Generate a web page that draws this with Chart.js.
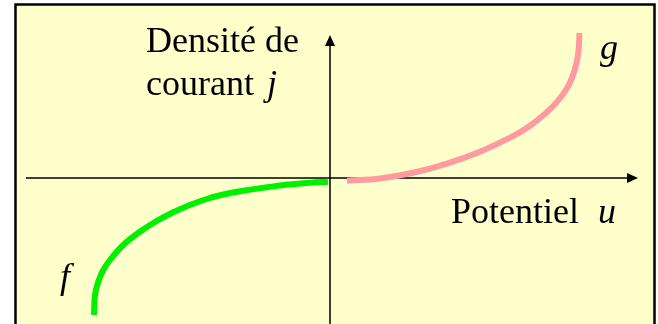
<!DOCTYPE html>
<html>
<head>
<meta charset="utf-8">
<script src="https://cdn.jsdelivr.net/npm/chart.js@4/dist/chart.umd.min.js"></script>
<style>
  html, body { margin: 0; padding: 0; background: #ffffff; }
  #wrap { width: 658px; height: 324px; }
</style>
</head>
<body>
<div id="wrap"><canvas id="chart" width="658" height="324"></canvas></div>
<script>
// curve f (potential u, current density j), arbitrary units, origin at axes crossing
var fU = [-2.36, -2.35, -2.317, -2.267, -2.20, -2.067, -1.90, -1.733, -1.567, -1.40, -1.233, -1.067, -0.85, -0.633, -0.42, -0.20, -0.02];
var fJ = [-1.37, -1.17, -1.037, -0.92, -0.82, -0.67, -0.537, -0.43, -0.343, -0.27, -0.21, -0.165, -0.125, -0.093, -0.066, -0.047, -0.037];
// curve g
var gU = [0.17, 0.50, 0.83, 1.17, 1.50, 1.83, 2.00, 2.16, 2.27, 2.38, 2.45, 2.483, 2.495];
var gJ = [-0.027, -0.004, 0.052, 0.144, 0.263, 0.418, 0.523, 0.651, 0.761, 0.915, 1.09, 1.252, 1.45];
// axis extents
var uRange = [-3.30, 3.28];
var jRange = [-1.46, 1.78];
var uAxis = [-3.04, 3.08];
var jAxisTop = 1.43;

function toPoints(xs, ys) {
  var pts = [];
  for (var i = 0; i < xs.length; i++) pts.push({ x: xs[i], y: ys[i] });
  return pts;
}

var labels = [
  { text: "Densité de", u: -1.84, j: 1.26, italic: false },
  { text: "courant", u: -1.84, j: 0.83, italic: false },
  { text: "j", u: -0.63, j: 0.83, italic: true },
  { text: "Potentiel", u: 1.21, j: -0.45, italic: false },
  { text: "u", u: 2.68, j: -0.45, italic: true },
  { text: "g", u: 2.70, j: 1.19, italic: true },
  { text: "f", u: -2.70, j: -1.10, italic: true }
];

var framePlugin = {
  id: "frame",
  beforeDraw: function (chart) {
    var ctx = chart.ctx;
    ctx.save();
    ctx.fillStyle = "#ffffff";
    ctx.fillRect(0, 0, chart.width, chart.height);
    ctx.fillStyle = "#ffffcc";
    ctx.fillRect(15, 4, 640, 330);
    ctx.strokeStyle = "#000000";
    ctx.lineWidth = 2.5;
    ctx.strokeRect(15.5, 4.5, 639, 340);

    var xs = chart.scales.x, ys = chart.scales.y;
    var x0 = xs.getPixelForValue(0), y0 = ys.getPixelForValue(0);
    var xl = xs.getPixelForValue(uAxis[0]), xr = xs.getPixelForValue(uAxis[1]);
    var yt = ys.getPixelForValue(jAxisTop), yb = ys.getPixelForValue(jRange[0]);
    ctx.lineWidth = 1.5;
    ctx.beginPath();
    ctx.moveTo(xl, y0); ctx.lineTo(xr - 8, y0);
    ctx.moveTo(x0, yb); ctx.lineTo(x0, yt + 8);
    ctx.stroke();
    ctx.fillStyle = "#000000";
    ctx.beginPath();
    ctx.moveTo(xr, y0); ctx.lineTo(xr - 11, y0 - 5); ctx.lineTo(xr - 11, y0 + 5); ctx.closePath();
    ctx.fill();
    ctx.beginPath();
    ctx.moveTo(x0, yt); ctx.lineTo(x0 - 5, yt + 11); ctx.lineTo(x0 + 5, yt + 11); ctx.closePath();
    ctx.fill();
    ctx.restore();
  },
  afterDraw: function (chart) {
    var ctx = chart.ctx;
    var xs = chart.scales.x, ys = chart.scales.y;
    ctx.save();
    ctx.fillStyle = "#000000";
    ctx.textBaseline = "alphabetic";
    ctx.textAlign = "left";
    labels.forEach(function (l) {
      ctx.font = (l.italic ? "italic " : "") + "36px 'Liberation Serif', 'Times New Roman', serif";
      ctx.fillText(l.text, xs.getPixelForValue(l.u), ys.getPixelForValue(l.j));
    });
    ctx.restore();
  }
};

new Chart(document.getElementById("chart").getContext("2d"), {
  type: "scatter",
  data: {
    datasets: [
      { label: "f", data: toPoints(fU, fJ), showLine: true, borderColor: "#00f000", borderWidth: 6, pointRadius: 0, tension: 0.4, borderCapStyle: "butt" },
      { label: "g", data: toPoints(gU, gJ), showLine: true, borderColor: "#ff9aa0", borderWidth: 6, pointRadius: 0, tension: 0.4, borderCapStyle: "butt" }
    ]
  },
  options: {
    responsive: false,
    animation: false,
    layout: { padding: 0 },
    plugins: { legend: { display: false }, tooltip: { enabled: false } },
    scales: {
      x: { type: "linear", min: uRange[0], max: uRange[1], display: false },
      y: { type: "linear", min: jRange[0], max: jRange[1], display: false }
    }
  },
  plugins: [framePlugin]
});
</script>
</body>
</html>
